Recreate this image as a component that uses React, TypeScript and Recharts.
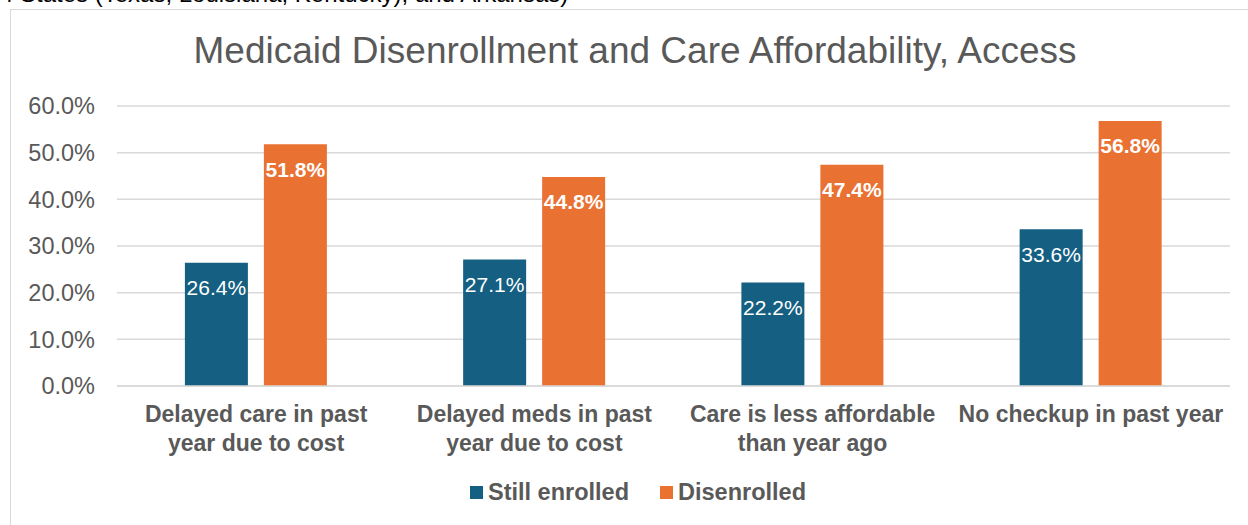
import { Bar, BarChart, CartesianGrid, LabelList, Legend, XAxis, YAxis } from "recharts";

const categories = [
  ["Delayed care in past", "year due to cost"],
  ["Delayed meds in past", "year due to cost"],
  ["Care is less affordable", "than year ago"],
  ["No checkup in past year"],
];
const stillEnrolled = [26.4, 27.1, 22.2, 33.6];
const disenrolled = [51.8, 44.8, 47.4, 56.8];
const yTicks = [0, 10, 20, 30, 40, 50, 60];

const data = categories.map((lines, i) => ({
  name: lines.join(" "),
  lines,
  still: stillEnrolled[i],
  dis: disenrolled[i],
}));

const FONT = "'Liberation Sans', Arial, sans-serif";
const GREY = "#595959";
const BLUE = "#156082";
const ORANGE = "#E97132";

const pct = (v: number) => `${v.toFixed(1)}%`;

const CategoryTick = ({ x, y, payload }: any) => {
  const lines = categories[payload.index] ?? [payload.value];
  return (
    <text x={x} y={y} textAnchor="middle" fill={GREY} fontSize={23} fontWeight="bold" fontFamily={FONT}>
      {lines.map((l, i) => (
        <tspan key={i} x={x} dy={i === 0 ? 28 : 29}>
          {l}
        </tspan>
      ))}
    </text>
  );
};

const barLabel = (bold: boolean) => (props: any) => {
  const { x, y, width, value } = props;
  return (
    <text
      x={x + width / 2}
      y={y + 25}
      textAnchor="middle"
      dominantBaseline="central"
      fill="#ffffff"
      fontSize={21}
      fontWeight={bold ? "bold" : "normal"}
      fontFamily={FONT}
    >
      {pct(value)}
    </text>
  );
};

const LegendBox = () => (
  <div style={{ display: "flex", justifyContent: "center", gap: 31, fontFamily: FONT, fontSize: 23.5, fontWeight: "bold", color: GREY }}>
    {[
      ["Still enrolled", BLUE],
      ["Disenrolled", ORANGE],
    ].map(([label, color]) => (
      <div key={label} style={{ display: "flex", alignItems: "center", gap: 5 }}>
        <span style={{ width: 13, height: 13, background: color, display: "inline-block" }} />
        <span>{label}</span>
      </div>
    ))}
  </div>
);

export default function App() {
  return (
    <div style={{ position: "fixed", top: 0, left: 0, width: 1248, height: 525, background: "#fff", overflow: "hidden" }}>
      <div
        style={{
          position: "absolute",
          top: -20,
          left: 0,
          fontFamily: FONT,
          fontSize: 24,
          color: "#000",
          whiteSpace: "nowrap",
        }}
      >
        4 States (Texas, Louisiana, Kentucky), and Arkansas)
      </div>
      <div
        style={{
          position: "absolute",
          top: 9,
          left: 10,
          width: 1400,
          height: 700,
          border: "1.5px solid #d9d9d9",
        }}
      />
      <div
        style={{
          position: "absolute",
          top: 30,
          left: 0,
          width: 1270,
          textAlign: "center",
          fontFamily: FONT,
          fontSize: 37,
          color: GREY,
        }}
      >
        Medicaid Disenrollment and Care Affordability, Access
      </div>
      <div style={{ position: "absolute", top: 0, left: 0 }}>
        <BarChart
          width={1248}
          height={525}
          data={data}
          margin={{ top: 106, right: 18, left: 0, bottom: 19 }}
          barCategoryGap="24.4%"
          barGap={16}
        >
          <CartesianGrid vertical={false} stroke="#d9d9d9" strokeWidth={1.5} />
          <XAxis
            dataKey="name"
            height={120}
            tick={<CategoryTick />}
            tickLine={false}
            axisLine={{ stroke: "#d9d9d9", strokeWidth: 1.5 }}
            interval={0}
          />
          <YAxis
            width={117}
            domain={[0, 60]}
            ticks={yTicks}
            tickFormatter={pct}
            tickLine={false}
            axisLine={false}
            tickMargin={16}
            tick={{ fill: GREY, fontSize: 23.5, fontFamily: FONT }}
          />
          <Legend
            verticalAlign="middle"
            align="center"
            content={<LegendBox />}
            wrapperStyle={{ top: 479, left: 14, width: 1248 }}
          />
          <Bar dataKey="still" name="Still enrolled" fill={BLUE} isAnimationActive={false}>
            <LabelList dataKey="still" content={barLabel(false)} />
          </Bar>
          <Bar dataKey="dis" name="Disenrolled" fill={ORANGE} isAnimationActive={false}>
            <LabelList dataKey="dis" content={barLabel(true)} />
          </Bar>
        </BarChart>
      </div>
    </div>
  );
}
